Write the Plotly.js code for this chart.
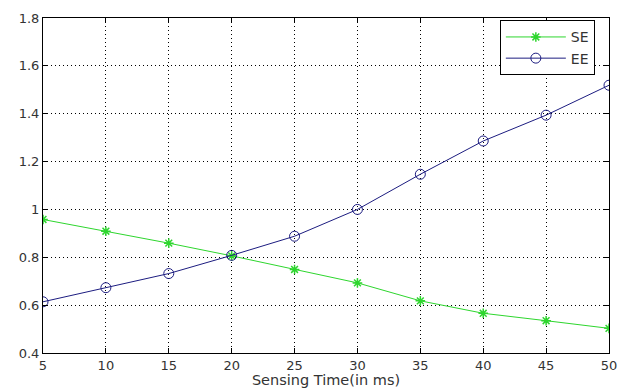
<!DOCTYPE html>
<html>
<head>
<meta charset="utf-8">
<script src="https://cdn.plot.ly/plotly-3.0.1.min.js"></script>
<style>html,body{margin:0;padding:0;background:#fff;}#chart{width:622px;height:388px;}</style>
</head>
<body>
<div id="chart"></div>
<script>
var sensingTime = [5, 10, 15, 20, 25, 30, 35, 40, 45, 50];
var seValues = [0.958, 0.909, 0.859, 0.806, 0.749, 0.693, 0.618, 0.566, 0.535, 0.503];
var eeValues = [0.614, 0.673, 0.732, 0.808, 0.888, 1.0, 1.147, 1.286, 1.394, 1.519];
var xTicks = [5, 10, 15, 20, 25, 30, 35, 40, 45, 50];
var yTicks = [0.4, 0.6, 0.8, 1.0, 1.2, 1.4, 1.6, 1.8];
var yTickText = ['0.4', '0.6', '0.8', '1', '1.2', '1.4', '1.6', '1.8'];

var FONT = 'DejaVu Sans, Liberation Sans, Arial, sans-serif';

var traces = [
  {x: sensingTime, y: seValues, name: 'SE', mode: 'lines+markers', type: 'scatter',
   line: {color: '#2ed62e', width: 1},
   marker: {symbol: 'asterisk-open', size: 8, color: '#2ed62e', line: {color: '#2ed62e', width: 1.5}}},
  {x: sensingTime, y: eeValues, name: 'EE', mode: 'lines+markers', type: 'scatter',
   line: {color: '#1c1c80', width: 1},
   marker: {symbol: 'circle-open', size: 10, color: '#1c1c80', line: {color: '#1c1c80', width: 1}}}
];

var axisCommon = {
  showline: true, linecolor: '#000', linewidth: 1, mirror: 'ticks',
  ticks: 'inside', ticklen: 5, tickcolor: '#000',
  showgrid: true, gridcolor: '#000', gridwidth: 1, griddash: '1px,3px',
  zeroline: false, tickfont: {family: FONT, size: 13, color: '#333'}
};

var layout = {
  width: 622, height: 388,
  margin: {l: 43, r: 13, t: 18, b: 35},
  paper_bgcolor: '#fff', plot_bgcolor: '#fff',
  showlegend: true,
  legend: {x: 0.975, y: 0.993, xanchor: 'right', yanchor: 'top', bgcolor: '#fff',
    bordercolor: '#000', borderwidth: 1,
    font: {family: FONT, size: 14, color: '#333'},
    tracegroupgap: 0, itemwidth: 60},
  xaxis: Object.assign({}, axisCommon, {
    range: [5, 50], tickmode: 'array', tickvals: xTicks,
    title: {text: 'Sensing Time(in ms)', standoff: 3,
      font: {family: FONT, size: 14.5, color: '#333'}},
    automargin: false
  }),
  yaxis: Object.assign({}, axisCommon, {
    range: [0.4, 1.8], tickmode: 'array', tickvals: yTicks, ticktext: yTickText,
    automargin: false
  })
};

Plotly.newPlot('chart', traces, layout, {displayModeBar: false, staticPlot: true});
</script>
</body>
</html>
